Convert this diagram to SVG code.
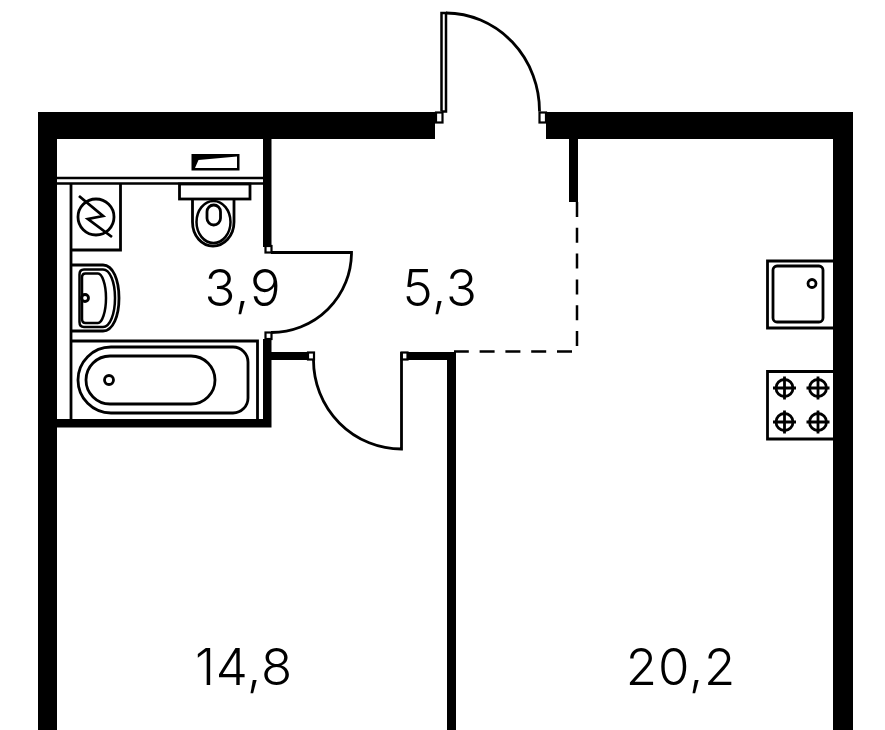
<svg xmlns="http://www.w3.org/2000/svg" width="885" height="730" viewBox="0 0 885 730">
<style>
.w{fill:#000}
.l{fill:none;stroke:#000;stroke-width:2.800}
.t{fill:none;stroke:#000;stroke-width:2.500}
.j{fill:#fff;stroke:#000;stroke-width:2.200}
.d{fill:none;stroke:#000;stroke-width:2.500;stroke-dasharray:15 10.800}
text{font-family:"Inter","Liberation Sans",sans-serif;font-size:51px;font-weight:350;letter-spacing:.8px;fill:#000;text-anchor:middle}
</style>
<rect width="885" height="730" fill="#fff"/>
<g id="walls">
<path class="w" d="M38 730V112H435V139H57V730Z"/>
<path class="w" d="M546 112H853V730H833V139H546Z"/>
<rect class="w" x="569" y="139" width="9" height="63"/>
<rect class="w" x="263" y="139" width="8.500" height="108"/>
<path class="w" d="M263 339H271.500V352H308V360H271.500V427.500H57V419H263Z"/>
<path class="w" d="M407 352H456V730H447V360H407Z"/>
</g>
<g id="partition">
<path class="t" d="M57 178H263M57 183.500H263"/>
<path class="d" d="M577 202V347.500"/>
<path class="d" d="M572 351.500H454"/>
</g>
<g id="doors">
<rect class="j" x="436" y="112.500" width="6.500" height="10"/>
<rect class="j" x="539.500" y="112.500" width="6.500" height="10"/>
<path class="t" d="M441.500 111.500V13H446V111.500H441.500"/>
<path class="l" d="M446 13A94 98 0 0 1 539.500 111.500"/>
<rect class="j" x="265.500" y="246" width="6" height="6.500"/>
<rect class="j" x="265.500" y="332.500" width="6" height="6.500"/>
<path class="l" d="M271 252.500H351.500A80 80 0 0 1 271 332.500"/>
<rect class="j" x="308" y="352.500" width="6" height="7"/>
<rect class="j" x="401.500" y="352.500" width="6" height="7"/>
<path class="l" d="M313.500 360A88 89 0 0 0 401.500 449V352"/>
</g>
<g id="bath-fixtures">
<rect x="191.500" y="154" width="48" height="16.500" fill="#000"/>
<path d="M195 168L198.500 160L237 156.500V168Z" fill="#fff"/>
<path class="l" d="M71 183.500V420"/>
<path class="l" d="M120.500 183.500V250H71"/>
<circle class="l" cx="96" cy="217" r="18"/>
<path class="l" d="M79 196L103 216L88 219L112 237"/>
<rect class="l" x="179.500" y="184" width="70.500" height="15"/>
<path class="l" d="M192.500 200V222C192.500 236 202 246 213 246C224 246 234 236 234 222V200"/>
<ellipse class="t" cx="213.500" cy="222" rx="17" ry="21"/>
<rect class="l" x="207" y="205" width="13.500" height="20" rx="6.700"/>
<path class="l" d="M71 265H103C113 265 119 280 119 298C119 316 113 331 103 331H71"/>
<path class="t" d="M84 269.500H103C110 269.500 115 282 115 298C115 314 110 327 103 327H84Q79.500 327 79.500 322V274.500Q79.500 269.500 84 269.500Z"/>
<path class="t" d="M85.500 273.500H98C102 273.500 106 284 106 298C106 312 102 323 98 323H85.500Q82 323 82 319V277.500Q82 273.500 85.500 273.500Z"/>
<circle class="l" cx="85" cy="298" r="3.500"/>
<path class="l" d="M71 341H257.500V419"/>
<path class="l" d="M111 347H233A15 15 0 0 1 248 362V398A15 15 0 0 1 233 413H111A33 33 0 0 1 78 380A33 33 0 0 1 111 347Z"/>
<rect class="l" x="86" y="356" width="129" height="48" rx="24"/>
<circle class="l" cx="109" cy="380" r="4.500"/>
</g>
<g id="kitchen">
<path class="l" d="M833 261H767.500V328H833"/>
<rect class="l" x="773" y="266" width="50" height="56" rx="4"/>
<circle class="l" cx="812" cy="283.500" r="4"/>
<path class="l" d="M833 371.500H767.500V439H833"/>
<g id="burners" class="l">
<circle cx="784.500" cy="388" r="8.500"/><path d="M773 388H796M784.500 376.500V399.500"/>
<circle cx="818" cy="388" r="8.500"/><path d="M806.500 388H829.500M818 376.500V399.500"/>
<circle cx="784.500" cy="422" r="8.500"/><path d="M773 422H796M784.500 410.500V433.500"/>
<circle cx="818" cy="422" r="8.500"/><path d="M806.500 422H829.500M818 410.500V433.500"/>
</g>
</g>
<g id="labels">
<text x="243" y="306">3,9</text>
<text x="440" y="306">5,3</text>
<text x="244" y="685">14,8</text>
<text x="681" y="685">20,2</text>
</g>
</svg>
